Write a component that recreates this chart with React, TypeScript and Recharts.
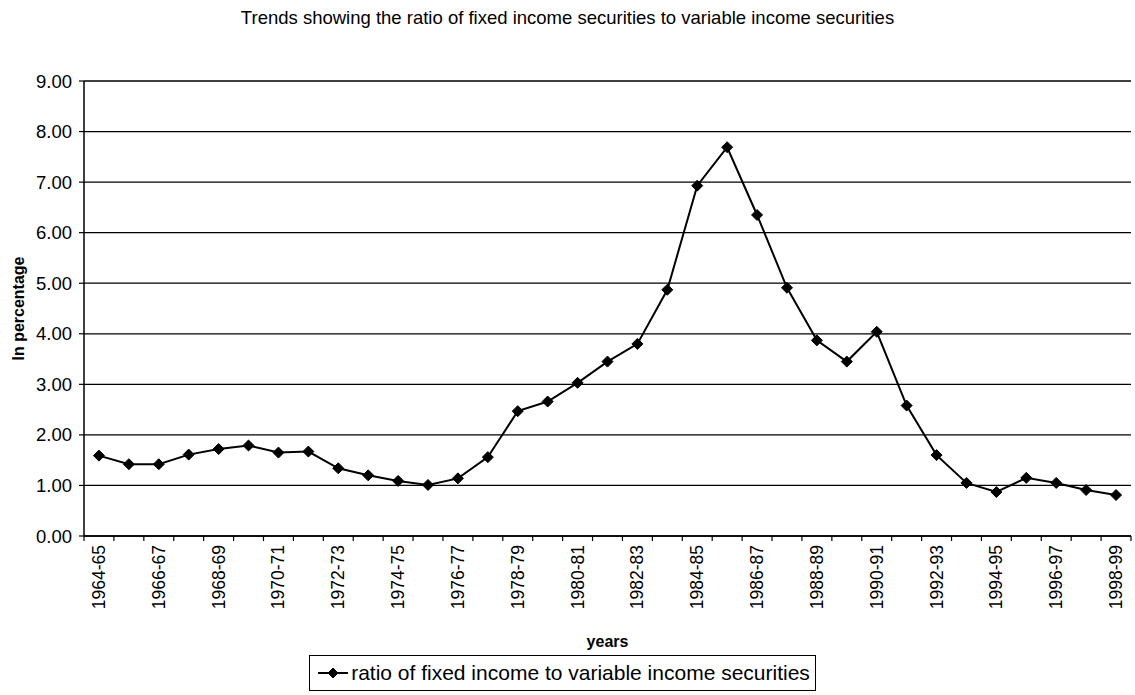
import React from "react";
import { LineChart, Line, XAxis, YAxis, CartesianGrid, Legend } from "recharts";

const chartTitle =
  "Trends showing the ratio of fixed income securities to variable income securities";
const seriesName = "ratio of fixed income to variable income securities";

const years = [
  "1964-65", "1965-66", "1966-67", "1967-68", "1968-69", "1969-70", "1970-71",
  "1971-72", "1972-73", "1973-74", "1974-75", "1975-76", "1976-77", "1977-78",
  "1978-79", "1979-80", "1980-81", "1981-82", "1982-83", "1983-84", "1984-85",
  "1985-86", "1986-87", "1987-88", "1988-89", "1989-90", "1990-91", "1991-92",
  "1992-93", "1993-94", "1994-95", "1995-96", "1996-97", "1997-98", "1998-99",
];

const ratios = [
  1.59, 1.42, 1.42, 1.61, 1.72, 1.79, 1.65, 1.67, 1.34, 1.2, 1.09, 1.01, 1.14,
  1.56, 2.47, 2.66, 3.03, 3.45, 3.8, 4.87, 6.93, 7.69, 6.35, 4.91, 3.87, 3.45,
  4.04, 2.58, 1.6, 1.05, 0.87, 1.15, 1.05, 0.91, 0.81,
];

const yTicks = [0, 1, 2, 3, 4, 5, 6, 7, 8, 9];

const data = years.map((year, i) => ({ year, ratio: ratios[i] }));

const FONT = '"Liberation Sans", Arial, Helvetica, sans-serif';
const TICK_SIZE = 5;
const TICK_MARGIN = 4;
// half of one category slot: the plot is 1047px wide for 35 years
const HALF_SLOT = 1047 / 35 / 2;

// diamond marker used on the line and in the legend
const Diamond = ({ cx, cy, r = 5.5 }: { cx: number; cy: number; r?: number }) => (
  <path
    d={`M${cx},${cy - r} L${cx + r},${cy} L${cx},${cy + r} L${cx - r},${cy} Z`}
    fill="#000"
    stroke="#000"
    strokeWidth={1}
  />
);

// category ticks sit on the slot edges, labels on every other year
const YearTick = (props: any) => {
  const { x, y, payload, index } = props;
  const axisY = y - TICK_SIZE - TICK_MARGIN;
  const last = index === years.length - 1;
  return (
    <g>
      <line x1={x - HALF_SLOT} x2={x - HALF_SLOT} y1={axisY} y2={axisY + TICK_SIZE} stroke="#000" strokeWidth={1.2} />
      {last && (
        <line x1={x + HALF_SLOT} x2={x + HALF_SLOT} y1={axisY} y2={axisY + TICK_SIZE} stroke="#000" strokeWidth={1.2} />
      )}
      {index % 2 === 0 && (
        <text
          x={x}
          y={y}
          transform={`rotate(-90 ${x} ${y})`}
          textAnchor="end"
          dominantBaseline="central"
          fontSize={17.5}
          fontFamily={FONT}
          fill="#000"
        >
          {payload.value}
        </text>
      )}
    </g>
  );
};

const LegendBox = () => (
  <div style={{ display: "flex", justifyContent: "center", marginLeft: -6 }}>
    <div
      style={{
        display: "flex",
        alignItems: "center",
        height: 34,
        border: "1px solid #000",
        padding: "0 5px 0 8px",
        fontFamily: FONT,
        fontSize: 21,
        color: "#000",
        background: "#fff",
      }}
    >
      <svg width={30} height={14} style={{ marginRight: 3 }}>
        <line x1={0} x2={30} y1={7} y2={7} stroke="#000" strokeWidth={2} />
        <Diamond cx={15} cy={7} r={5} />
      </svg>
      <span>{seriesName}</span>
    </div>
  </div>
);

export default function App() {
  return (
    <div
      style={{
        position: "fixed",
        left: 0,
        top: 0,
        width: 1135,
        height: 695,
        background: "#fff",
      }}
    >
      <div
        style={{
          position: "absolute",
          top: 8,
          left: 0,
          width: 1135,
          textAlign: "center",
          fontFamily: FONT,
          fontSize: 18.5,
          lineHeight: "20px",
          color: "#000",
        }}
      >
        {chartTitle}
      </div>
      <LineChart
        width={1135}
        height={695}
        data={data}
        margin={{ top: 81, right: 4, bottom: 4, left: 0 }}
      >
        <CartesianGrid vertical={false} stroke="#000" strokeWidth={1.3} />
        <XAxis
          dataKey="year"
          interval={0}
          height={119}
          padding={{ left: HALF_SLOT, right: HALF_SLOT }}
          tickSize={TICK_SIZE}
          tickMargin={TICK_MARGIN}
          tickLine={false}
          axisLine={{ stroke: "#000", strokeWidth: 1.5 }}
          tick={<YearTick />}
          label={{
            value: "years",
            position: "insideBottom",
            offset: 8,
            fill: "#000",
            fontSize: 16,
            fontWeight: "bold",
            fontFamily: FONT,
          }}
        />
        <YAxis
          width={84}
          domain={[0, 9]}
          ticks={yTicks}
          interval={0}
          tickSize={TICK_SIZE}
          tickMargin={7}
          tickFormatter={(v: number) => v.toFixed(2)}
          tick={{ fill: "#000", fontSize: 18.5, fontFamily: FONT }}
          tickLine={{ stroke: "#000", strokeWidth: 1.2 }}
          axisLine={{ stroke: "#000", strokeWidth: 1.5 }}
          label={{
            value: "In percentage",
            angle: -90,
            position: "insideLeft",
            offset: 18,
            fill: "#000",
            fontSize: 16,
            fontWeight: "bold",
            fontFamily: FONT,
            style: { textAnchor: "middle" },
          }}
        />
        <Legend verticalAlign="bottom" height={36} content={<LegendBox />} />
        <Line
          type="linear"
          dataKey="ratio"
          name={seriesName}
          stroke="#000"
          strokeWidth={2}
          dot={(p: any) => <Diamond key={p.index} cx={p.cx} cy={p.cy} />}
          activeDot={false}
          isAnimationActive={false}
        />
      </LineChart>
    </div>
  );
}
